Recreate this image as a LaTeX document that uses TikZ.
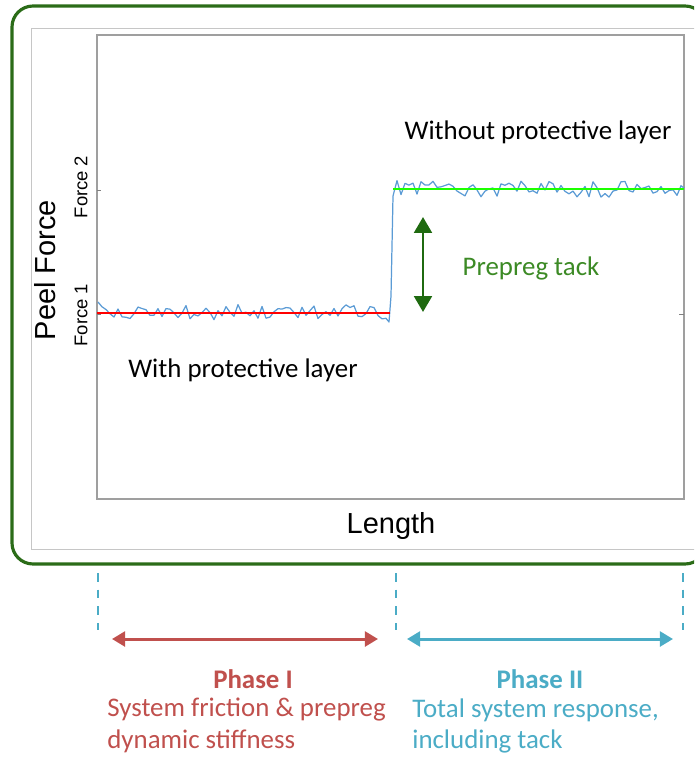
\documentclass[tikz,border=0pt]{standalone}
\usepackage{fontspec}
\setmainfont{Carlito}
\newfontfamily\arialfont{Liberation Sans}
\usetikzlibrary{arrows.meta}

\definecolor{boxgreen}{HTML}{2B6C18}
\definecolor{tackgreen}{HTML}{1F6A10}
\definecolor{tacktext}{HTML}{3C8A25}
\definecolor{phaseone}{HTML}{C0504D}
\definecolor{phasetwo}{HTML}{4BACC6}
\definecolor{signal}{HTML}{5B9BD5}

\tikzset{
    data/.style={signal, line width=0.7pt, line join=round},
    fitline/.style={line width=1.4pt},
    phasearrow/.style={line width=1.7pt, {Triangle[width=8.5pt,length=7.5pt]}-{Triangle[width=8.5pt,length=7.5pt]}},
    guide/.style={phasetwo, line width=1.3pt, dash pattern=on 5pt off 4.5pt},
    label/.style={font=\fontsize{15.3}{18}\selectfont},
    axislabel/.style={font=\arialfont\fontsize{16.5}{18}\selectfont},
    ticklabel/.style={font=\arialfont\fontsize{10.5}{12}\selectfont},
}

\begin{document}
\begin{tikzpicture}[x=0.02cm, y=-0.02cm]
    \useasboundingbox (0,0) rectangle (694,757);
    \clip (0,0) rectangle (694,757);

    % frames
    \draw [boxgreen, line width=1.8pt, rounded corners=0.42cm] (12,6) rectangle (706,564);
    \draw [gray!45, line width=0.5pt] (31,28) rectangle (710,549);
    \draw [gray!75, line width=0.9pt] (97,35) rectangle (684,499);

    % ticks
    \draw [gray] (97,190) -- (101,190);
    \draw [gray] (97,314) -- (101,314);
    \draw [gray] (684,314) -- (679,314);

    % peel data
    \pgfmathsetseed{4217}
    \draw [data] (98,302)
        \foreach \x in {102,106,...,386} { -- (\x,{312+7*rand+4*rand*rand*rand}) }
        -- (389,322) -- (391,296) -- (393,196)
        \foreach \x in {397,401,...,681} { -- (\x,{189+8*rand+4*rand*rand*rand}) }
        -- (684,188);
    \draw [fitline, red] (97,313) -- (390,313);
    \draw [fitline, green!85!lime] (393,189) -- (684,189);

    % tack
    \coordinate (tack_top) at (423,217);
    \coordinate (tack_bot) at (423,312);
    \draw [tackgreen, line width=1.7pt, {Triangle[width=10pt,length=9pt]}-{Triangle[width=10pt,length=9pt]}] (tack_top) -- (tack_bot);
    \node (tack) [label, text=tacktext] at (531,268) {Prepreg tack};

    \node (without) [label] at (538,132) {Without protective layer};
    \node (with) [label] at (243,370) {With protective layer};

    % axes labels
    \node (peel) [axislabel, rotate=90] at (45,270) {Peel Force};
    \node (length) [axislabel] at (391,526) {Length};
    \node (force2) [ticklabel, rotate=90] at (81,187) {Force 2};
    \node (force1) [ticklabel, rotate=90] at (81,315) {Force 1};

    % phases
    \coordinate (g1_top) at (98,573);  \coordinate (g1_bot) at (98,630);
    \coordinate (g2_top) at (396,573); \coordinate (g2_bot) at (396,630);
    \coordinate (g3_top) at (683,573); \coordinate (g3_bot) at (683,630);
    \draw [guide] (g1_top) -- (g1_bot);
    \draw [guide] (g2_top) -- (g2_bot);
    \draw [guide] (g3_top) -- (g3_bot);
    \coordinate (p1_start) at (112,639); \coordinate (p1_end) at (378,639);
    \coordinate (p2_start) at (407,639); \coordinate (p2_end) at (673,639);
    \draw [phasearrow, phaseone] (p1_start) -- (p1_end);
    \draw [phasearrow, phasetwo] (p2_start) -- (p2_end);

    \node (phase1) [label, text=phaseone, font=\bfseries\fontsize{15.3}{18}\selectfont] at (253,679) {Phase I};
    \node (phase1_text) [label, text=phaseone, anchor=north west, align=left, inner sep=0pt] at (107,698) {System friction \& prepreg\\dynamic stiffness};
    \node (phase2) [label, text=phasetwo, font=\bfseries\fontsize{15.3}{18}\selectfont] at (540,679) {Phase II};
    \node (phase2_text) [label, text=phasetwo, anchor=north west, align=left, inner sep=0pt] at (412,698) {Total system response,\\including tack};
\end{tikzpicture}
\end{document}
